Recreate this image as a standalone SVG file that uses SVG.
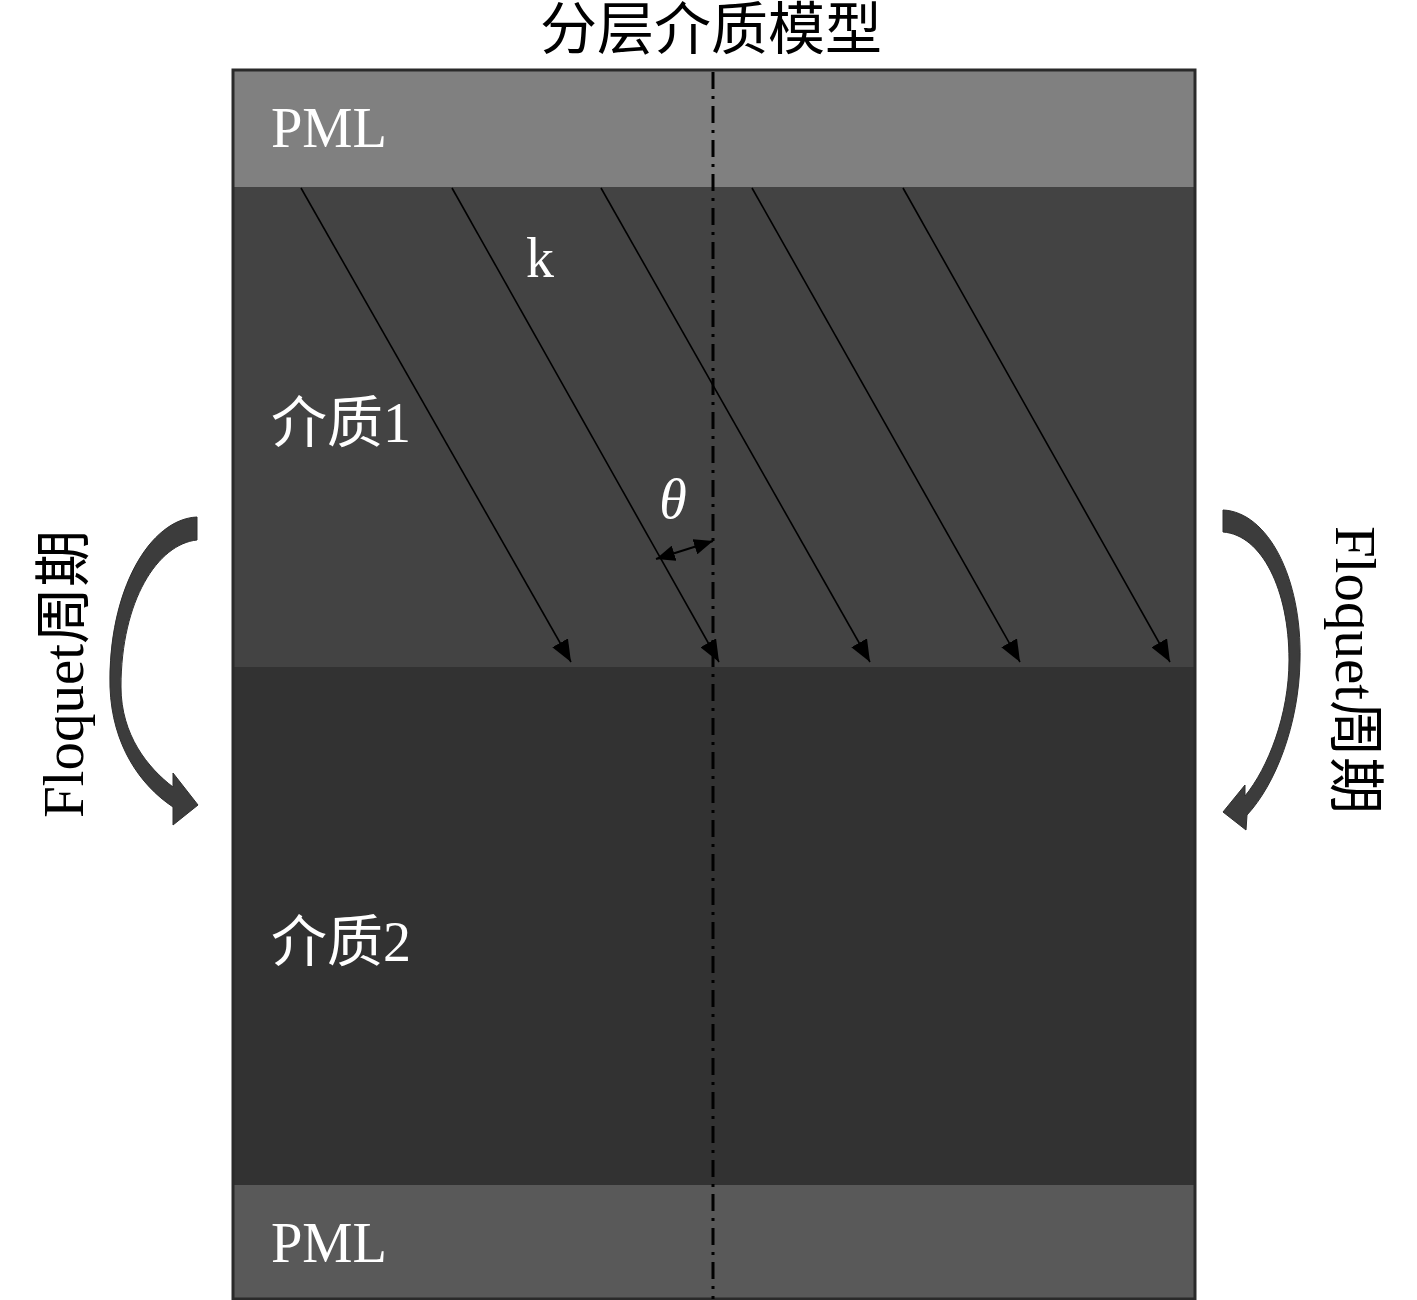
<svg xmlns="http://www.w3.org/2000/svg" width="1417" height="1300" viewBox="0 0 1417 1300">
<style>
.lbl{font-family:"Liberation Serif","Noto Sans CJK SC",serif;fill:#ffffff;font-size:56px}
.blk{font-family:"Liberation Serif","Noto Sans CJK SC",serif;fill:#000000}
.ray{stroke:#000;stroke-width:1.6;fill:none}
.curv{fill:#3c3c3c;stroke:#2e2e2e;stroke-width:1}
</style>
<defs>
<marker id="ah" markerUnits="userSpaceOnUse" markerWidth="24" markerHeight="18" refX="22" refY="9" orient="auto">
<path d="M0,0 L22,9 L0,18 Z" fill="#000"/>
</marker>
<marker id="ah2" markerUnits="userSpaceOnUse" markerWidth="20" markerHeight="16" refX="19" refY="8" orient="auto-start-reverse">
<path d="M0,0 L19,8 L0,16 Z" fill="#000"/>
</marker>
</defs>
<rect width="1417" height="1300" fill="#ffffff"/>
<text class="blk" x="711" y="49" font-size="57" text-anchor="middle">分层介质模型</text>
<g id="pml-top"><rect x="233" y="70" width="962" height="117" fill="#808080"/><text class="lbl" x="271" y="147" textLength="116" lengthAdjust="spacingAndGlyphs">PML</text></g>
<g id="medium1"><rect x="233" y="187" width="962" height="480" fill="#434343"/><text class="lbl" x="271" y="442">介质1</text></g>
<g id="medium2"><rect x="233" y="667" width="962" height="518" fill="#323232"/><text class="lbl" x="271" y="961">介质2</text></g>
<g id="pml-bottom"><rect x="233" y="1185" width="962" height="114" fill="#595959"/><text class="lbl" x="271" y="1262" textLength="116" lengthAdjust="spacingAndGlyphs">PML</text></g>
<rect x="233" y="70" width="962" height="1229" fill="none" stroke="#2a2a2a" stroke-width="3"/>
<g id="connectors">
<line class="ray" x1="301" y1="188" x2="571" y2="662" marker-end="url(#ah)"/>
<line class="ray" x1="452" y1="188" x2="719" y2="662" marker-end="url(#ah)"/>
<line class="ray" x1="601" y1="188" x2="870" y2="662" marker-end="url(#ah)"/>
<line class="ray" x1="752" y1="188" x2="1020" y2="662" marker-end="url(#ah)"/>
<line class="ray" x1="903" y1="188" x2="1170" y2="662" marker-end="url(#ah)"/>
<line x1="713" y1="72" x2="713" y2="1299" stroke="#000" stroke-width="3" stroke-dasharray="17 7 3 7"/>
<line x1="656" y1="559" x2="713" y2="541" stroke="#000" stroke-width="2" marker-start="url(#ah2)" marker-end="url(#ah2)"/>
<path class="curv" d="M197,517 C150,519 108,590 110,687 C112,745 140,785 173,807 L173,825 L198,805 L173,773 L173,787 C148,768 121,735 121,687 C121,600 158,544 197,540 Z"/>
<path class="curv" d="M1223,510 C1268,512 1302,578 1300,660 C1299,725 1275,785 1247,815 L1246,830 L1223,812 L1245,785 L1245,796 C1268,768 1289,715 1289,660 C1289,590 1262,535 1223,532 Z"/>
</g>
<text class="lbl" x="526" y="277" font-size="52">k</text>
<text class="lbl" x="673" y="518" font-size="48" font-style="italic" text-anchor="middle">θ</text>
<text class="blk" font-size="57" text-anchor="middle" transform="translate(83,674) rotate(-90)">Floquet周期</text>
<text class="blk" font-size="57" text-anchor="middle" transform="translate(1336,670) rotate(90)">Floquet周期</text>
</svg>
